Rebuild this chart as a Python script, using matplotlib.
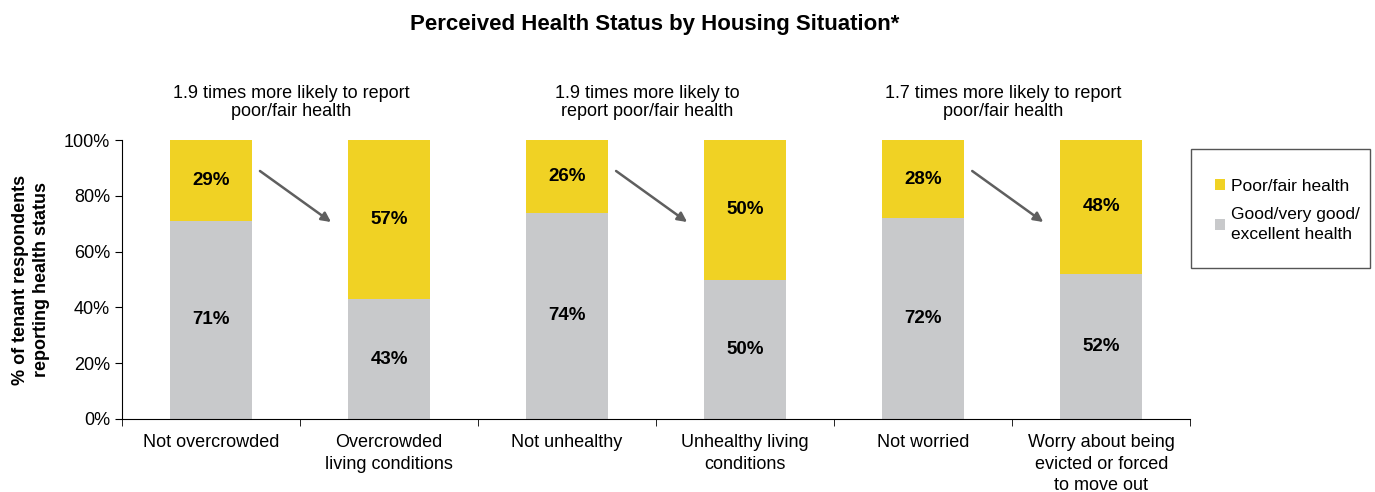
import matplotlib.pyplot as plt
from matplotlib.patches import Rectangle
import numpy as np

plt.rcParams['font.family'] = ['Liberation Sans', 'DejaVu Sans']

categories = ["Not overcrowded", "Overcrowded\nliving conditions", "Not unhealthy",
              "Unhealthy living\nconditions", "Not worried",
              "Worry about being\nevicted or forced\nto move out"]
good = [71, 43, 74, 50, 72, 52]
poor = [29, 57, 26, 50, 28, 48]
notes = ["1.9 times more likely to report\npoor/fair health",
         "1.9 times more likely to\nreport poor/fair health",
         "1.7 times more likely to report\npoor/fair health"]

yellow = "#F0D224"
grey = "#C8C9CB"

fig = plt.figure(figsize=(13.75, 4.92), dpi=100)
ax = fig.add_axes([0.0887, 0.1484, 0.777, 0.567])

x = np.arange(len(categories))
w = 0.46
ax.bar(x, good, w, color=grey, label="Good/very good/\nexcellent health")
ax.bar(x, poor, w, bottom=good, color=yellow, label="Poor/fair health")

for i in range(len(x)):
    ax.text(x[i], good[i] / 2, f"{good[i]}%", ha="center", va="center",
            fontsize=13.5, fontweight="bold")
    ax.text(x[i], good[i] + poor[i] / 2, f"{poor[i]}%", ha="center", va="center",
            fontsize=13.5, fontweight="bold")

# arrows and notes for each pair
for k in range(3):
    a = 2 * k
    ax.annotate("", xy=(a + 0.674, 70.6), xytext=(a + 0.275, 88.9),
                arrowprops=dict(arrowstyle="-|>", color="#5f5f5f", lw=1.8,
                                mutation_scale=14, shrinkA=0, shrinkB=0))
    ax.text(a + 0.45, 107.3, notes[k], ha="center", va="bottom", fontsize=13,
            linespacing=1.05, clip_on=False)

ax.set_xlim(-0.5, 5.5)
ax.set_ylim(0, 100)
ax.set_yticks(np.arange(0, 101, 20))
ax.set_yticklabels([f"{v}%" for v in range(0, 101, 20)], fontsize=13)
ax.set_xticks(x)
ax.set_xticklabels(categories, fontsize=13, linespacing=1.35)
ax.tick_params(axis="x", length=0, pad=11)
ax.set_xticks(np.arange(-0.5, 6, 1), minor=True)
ax.tick_params(axis="x", which="minor", length=5, direction="out")
ax.tick_params(axis="y", length=5, direction="out")
for s in ["top", "right"]:
    ax.spines[s].set_visible(False)

ax.set_ylabel("% of tenant respondents\nreporting health status", fontsize=13,
              fontweight="bold", labelpad=10, linespacing=1.3)

fig.suptitle("Perceived Health Status by Housing Situation*", fontsize=16,
             fontweight="bold", y=0.972, x=0.476)

# legend box drawn separately so the padding can differ by side
fig.patches.append(Rectangle((0.8662, 0.4553), 0.1302, 0.2419, transform=fig.transFigure,
                             fill=False, edgecolor="#555555", lw=1))
handles, labels = ax.get_legend_handles_labels()
leg = fig.legend(handles[::-1], labels[::-1], loc="upper left",
                 bbox_to_anchor=(0.871, 0.672), fontsize=12.5, frameon=False,
                 handlelength=0.6, handleheight=0.6, handletextpad=0.3,
                 borderpad=0.5, labelspacing=0.75)
for t in leg.get_texts():
    t.set_linespacing(1.4)

fig.savefig("out.png", dpi=100)
